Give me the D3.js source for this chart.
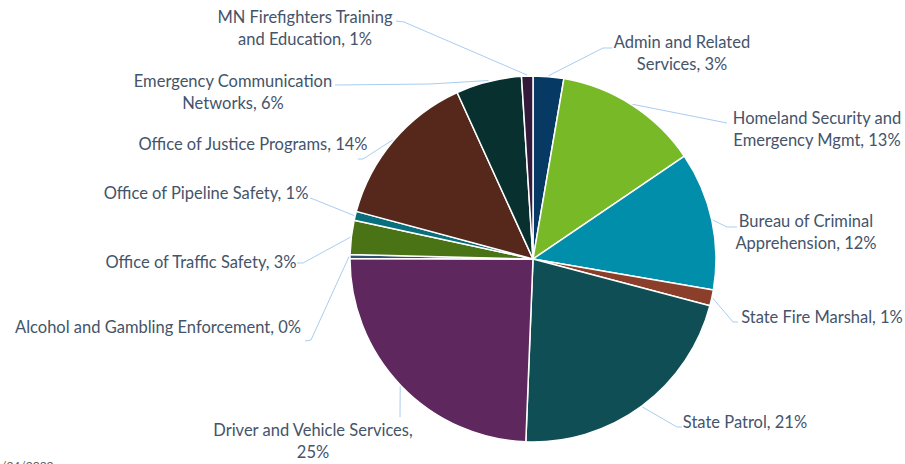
<!DOCTYPE html>
<html>
<head>
<meta charset="utf-8">
<script src="https://cdn.jsdelivr.net/npm/d3@7"></script>
<style>
    body { margin: 0; background: #fff; }
    svg { display: block; }
    .label { font-family: Lato, "Open Sans", sans-serif; font-size: 16.5px; fill: #44546a; }
    .leader { fill: none; stroke: #a9cdf0; stroke-width: 1; }
</style>
</head>
<body>
<svg id="chart" width="905" height="464"></svg>
<script>
// categories clockwise from 12 o'clock
const categories = [
    "Admin and Related Services",
    "Homeland Security and Emergency Mgmt",
    "Bureau of Criminal Apprehension",
    "State Fire Marshal",
    "State Patrol",
    "Driver and Vehicle Services",
    "Alcohol and Gambling Enforcement",
    "Office of Traffic Safety",
    "Office of Pipeline Safety",
    "Office of Justice Programs",
    "Emergency Communication Networks",
    "MN Firefighters Training and Education"
];

// slice shares (%)
const shares = [2.7, 12.8, 12.2, 1.4, 21.5, 24.4, 0.35, 3.0, 0.8, 14.0, 5.8, 1.0];

// percentages as printed on the labels
const pctLabels = ["3%", "13%", "12%", "1%", "21%", "25%", "0%", "3%", "1%", "14%", "6%", "1%"];

// how each label wraps
const labelLines = [
    ["Admin and Related", "Services, {p}"],
    ["Homeland Security and", "Emergency Mgmt, {p}"],
    ["Bureau of Criminal", "Apprehension, {p}"],
    ["State Fire Marshal, {p}"],
    ["State Patrol, {p}"],
    ["Driver and Vehicle Services,", "{p}"],
    ["Alcohol and Gambling Enforcement, {p}"],
    ["Office of Traffic Safety, {p}"],
    ["Office of Pipeline Safety, {p}"],
    ["Office of Justice Programs, {p}"],
    ["Emergency Communication", "Networks, {p}"],
    ["MN Firefighters Training", "and Education, {p}"]
];

const colors = [
    "#063a64", "#78b927", "#018eab", "#8b3f2a", "#0e4e54", "#5e285e",
    "#35506e", "#4a7316", "#0a6f7c", "#55281b", "#08302f", "#341a3a"
];

// label placement: text centre x, first line centre y, leader start, leader elbow
const labelLayout = [
    { x: 682, y: 42, start: [612, 48], elbow: [603, 48] },
    { x: 817, y: 118, start: [727, 123], elbow: [727, 123] },
    { x: 806, y: 221, start: [737, 227], elbow: [727, 227] },
    { x: 822, y: 317, start: [738, 322], elbow: [733, 322] },
    { x: 745, y: 422, start: [682, 427], elbow: [677, 427] },
    { x: 313, y: 430, start: [400, 417], elbow: [400, 417] },
    { x: 158, y: 327, start: [305, 341], elbow: [311, 340] },
    { x: 201, y: 262, start: [297, 263], elbow: [303, 263] },
    { x: 206, y: 193, start: [310, 198], elbow: [313, 199] },
    { x: 253, y: 144, start: [358, 159], elbow: [363, 159] },
    { x: 233, y: 81, start: [335, 85], elbow: [430, 84] },
    { x: 305, y: 17, start: [396, 21], elbow: [404, 22] }
];

const svg = d3.select("#chart");
const cx = 533, cy = 259, radius = 183;
const lineHeight = 22;

const data = categories.map((name, i) => ({ name, value: shares[i], i }));

const pie = d3.pie()
    .value(d => d.value)
    .sort(null)
    .startAngle(0)
    .endAngle(2 * Math.PI);

const arcs = pie(data);

const arc = d3.arc()
    .innerRadius(0)
    .outerRadius(radius);

// zero-width arc at the rim, its centroid is where the leader meets the slice
const rimArc = d3.arc()
    .innerRadius(radius + 1)
    .outerRadius(radius + 1);

const g = svg.append("g")
    .attr("transform", `translate(${cx},${cy})`);

g.selectAll("path.slice")
    .data(arcs)
    .join("path")
    .attr("class", "slice")
    .attr("d", arc)
    .attr("fill", d => colors[d.data.i])
    .attr("stroke", "#fff")
    .attr("stroke-width", 1.5)
    .attr("stroke-linejoin", "round");

// leader lines
svg.selectAll("path.leader")
    .data(arcs)
    .join("path")
    .attr("class", "leader")
    .attr("d", d => {
        const l = labelLayout[d.data.i];
        const c = rimArc.centroid(d);
        return d3.line()([l.start, l.elbow, [cx + c[0], cy + c[1]]]);
    });

// labels
const labels = svg.selectAll("text.label")
    .data(arcs)
    .join("text")
    .attr("class", "label")
    .attr("text-anchor", "middle");

labels.each(function(d) {
    const l = labelLayout[d.data.i];
    const lines = labelLines[d.data.i].map(s => s.replace("{p}", pctLabels[d.data.i]));
    d3.select(this).selectAll("tspan")
        .data(lines)
        .join("tspan")
        .attr("x", l.x)
        .attr("y", (s, k) => l.y + k * lineHeight)
        .attr("dy", "0.35em")
        .text(s => s);
});

// date footer, cut off by the bottom edge
svg.append("text")
    .attr("x", -6)
    .attr("y", 470)
    .attr("font-family", "Lato, sans-serif")
    .attr("font-size", "12px")
    .attr("fill", "#595959")
    .text("1/24/2022");
</script>
</body>
</html>
